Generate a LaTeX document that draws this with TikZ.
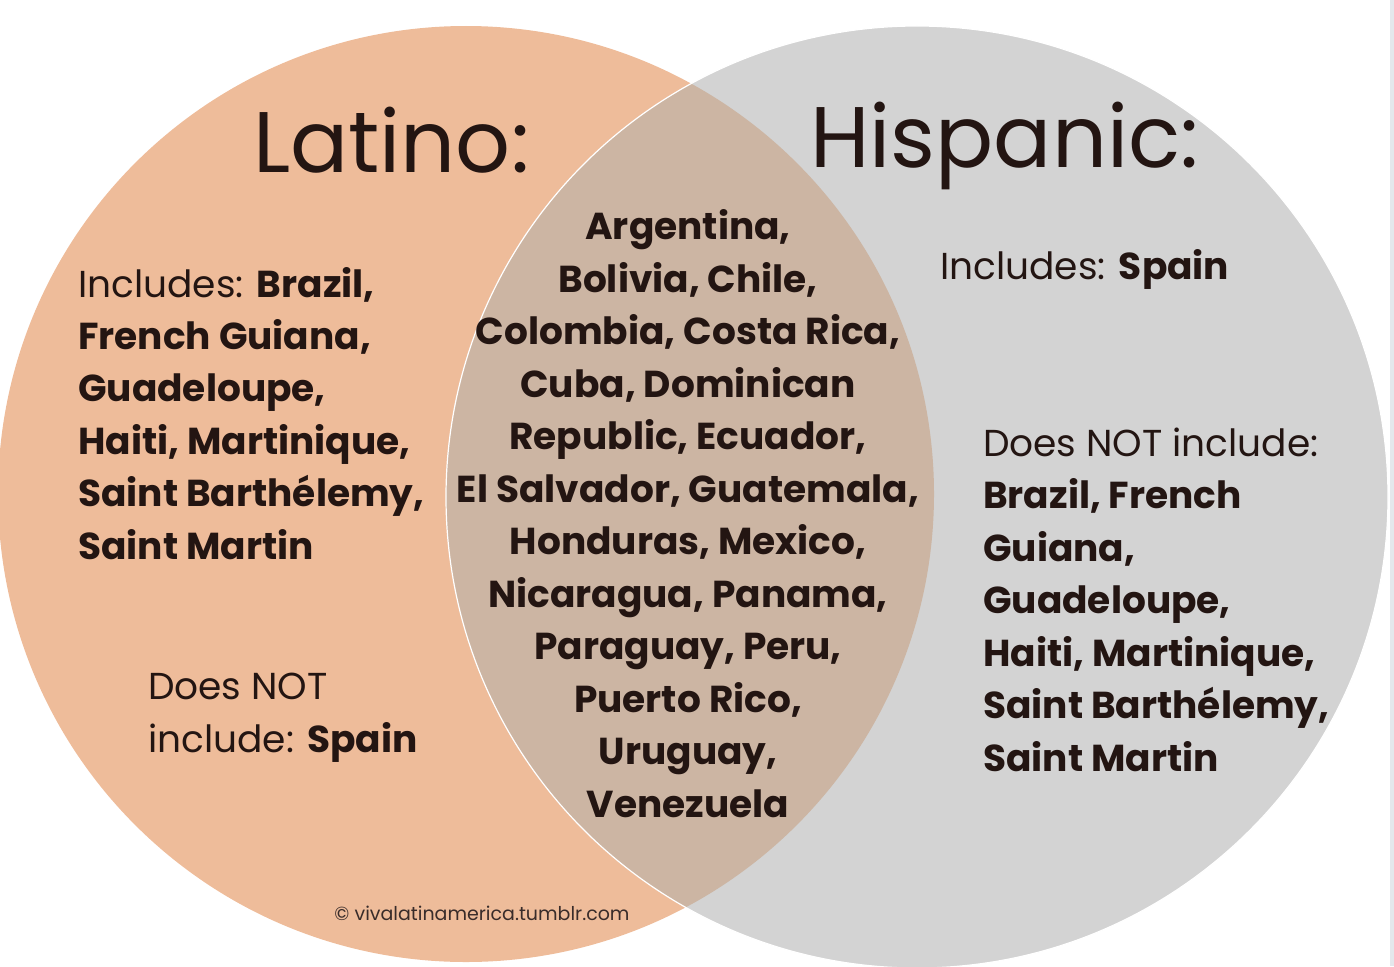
\documentclass[tikz,border=0pt]{standalone}
\usepackage{fontspec}
\setmainfont{Poppins}
\usepackage{xcolor}
\usepackage{tikz}
\definecolor{latinopeach}{HTML}{EEBC9A}
\definecolor{hispgray}{HTML}{D3D3D3}
\definecolor{bothtan}{HTML}{CCB5A3}
\definecolor{inkbrown}{HTML}{231512}
\definecolor{edgeblue}{HTML}{E4E8EC}
\tikzset{
  titletext/.style={font=\fontsize{86}{90}\selectfont, text=inkbrown, inner sep=0pt},
  listtext/.style={font=\fontsize{37.5}{52.4}\selectfont, text=inkbrown, inner sep=0pt, align=left},
  midtext/.style={listtext, align=center},
  marktext/.style={font=\fontsize{19}{22}\selectfont, text=inkbrown!90, inner sep=0pt},
}

\begin{document}
\begin{tikzpicture}[x=1pt, y=-1pt]
  \useasboundingbox (0,0) rectangle (1394,966);

  % Circles
  \fill[latinopeach] (466,494) circle[radius=468];
  \fill[hispgray] (917,497) circle[radius=471];
  \begin{scope}
    \clip (466,494) circle[radius=468];
    \fill[bothtan] (917,497) circle[radius=471];
  \end{scope}
  \draw[white, line width=1.2pt] (917,497) circle[radius=471];
  \fill[edgeblue] (1390,0) rectangle (1394,966);

  % Titles
  \node[titletext, anchor=base west] (latino) at (253,172) {Latino:};
  \node[titletext, anchor=base west] (hispanic) at (810,167) {Hispanic:};

  % Latino only (base = last line)
  \node[listtext, anchor=base west] (latinoin) at (78,559) {%
    Includes: \textbf{Brazil,}\\
    \textbf{French Guiana,}\\
    \textbf{Guadeloupe,}\\
    \textbf{Haiti, Martinique,}\\
    \textbf{Saint Barthélemy,}\\
    \textbf{Saint Martin}};
  \node[listtext, anchor=base west] (latinonot) at (148,752) {%
    Does NOT\\
    include: \textbf{Spain}};

  % Both
  \node[midtext, anchor=base, font=\fontsize{37.5}{52.5}\selectfont\bfseries] (both) at (688,817) {%
    Argentina,\\
    Bolivia, Chile,\\
    Colombia, Costa Rica,\\
    Cuba, Dominican\\
    Republic, Ecuador,\\
    El Salvador, Guatemala,\\
    Honduras, Mexico,\\
    Nicaragua, Panama,\\
    Paraguay, Peru,\\
    Puerto Rico,\\
    Uruguay,\\
    Venezuela};

  % Hispanic only
  \node[listtext, anchor=base west] (hispin) at (940,279) {Includes: \textbf{Spain}};
  \node[listtext, anchor=base west, font=\fontsize{37.5}{52.5}\selectfont] (hispnot) at (983,771) {%
    Does NOT include:\\
    \textbf{Brazil, French}\\
    \textbf{Guiana,}\\
    \textbf{Guadeloupe,}\\
    \textbf{Haiti, Martinique,}\\
    \textbf{Saint Barthélemy,}\\
    \textbf{Saint Martin}};

  % Credit
  \node[marktext, anchor=base] (credit) at (482,920) {© vivalatinamerica.tumblr.com};
\end{tikzpicture}
\end{document}
